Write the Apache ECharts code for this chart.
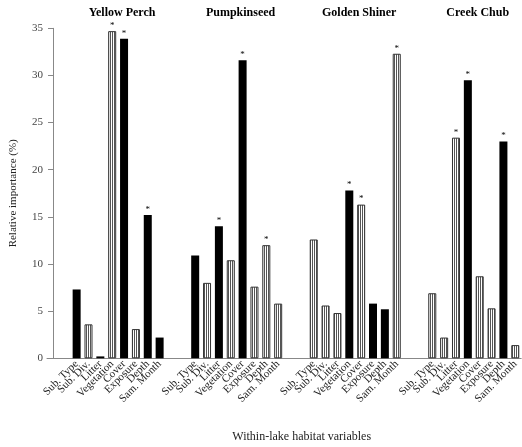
<!DOCTYPE html>
<html><head><meta charset="utf-8">
<script src="https://cdn.jsdelivr.net/npm/echarts@6/dist/echarts.min.js"></script>
<style>html,body{margin:0;padding:0;background:#fff}#c{width:522px;height:447px}</style>
</head><body><div id="c"></div>
<script>
const groups = ['Yellow Perch', 'Pumpkinseed', 'Golden Shiner', 'Creek Chub'];
const variables = ['Sub. Type', 'Sub. Div.', 'Litter', 'Vegetation', 'Cover', 'Exposure', 'Depth', 'Sam. Month'];
const yTicks = [0, 5, 10, 15, 20, 25, 30, 35];

const yellowPerch  = [7.3, 3.6, 0.2, 34.7, 33.9, 3.1, 15.2, 2.2];
const pumpkinseed  = [10.9, 8.0, 14.0, 10.4, 31.6, 7.6, 12.0, 5.8];
const goldenShiner = [12.6, 5.6, 4.8, 17.8, 16.3, 5.8, 5.2, 32.3];
const creekChub    = [6.9, 2.2, 23.4, 29.5, 8.7, 5.3, 23.0, 1.4];

const yellowPerchFill  = ['solid', 'hatched', 'solid', 'hatched', 'solid', 'hatched', 'solid', 'solid'];
const pumpkinseedFill  = ['solid', 'hatched', 'solid', 'hatched', 'solid', 'hatched', 'hatched', 'hatched'];
const goldenShinerFill = ['hatched', 'hatched', 'hatched', 'solid', 'hatched', 'solid', 'solid', 'hatched'];
const creekChubFill    = ['hatched', 'hatched', 'hatched', 'solid', 'hatched', 'hatched', 'solid', 'hatched'];

const yellowPerchSig  = [0, 0, 0, 1, 1, 0, 1, 0];
const pumpkinseedSig  = [0, 0, 1, 0, 1, 0, 1, 0];
const goldenShinerSig = [0, 0, 0, 1, 1, 0, 0, 1];
const creekChubSig    = [0, 0, 1, 1, 0, 0, 1, 0];

const groupValues = [yellowPerch, pumpkinseed, goldenShiner, creekChub];
const groupFills = [yellowPerchFill, pumpkinseedFill, goldenShinerFill, creekChubFill];
const groupSigs = [yellowPerchSig, pumpkinseedSig, goldenShinerSig, creekChubSig];

// hatch pattern
const pc = document.createElement('canvas');
pc.width = 2; pc.height = 2;
const pctx = pc.getContext('2d');
pctx.fillStyle = '#fff'; pctx.fillRect(0, 0, 2, 2);
pctx.fillStyle = '#555'; pctx.fillRect(0, 0, 1, 2);
const hatch = { image: pc, repeat: 'repeat' };

const LEAD = 2, GAP = 2;
const cats = [];
const data = [];
const groupCenters = [];
for (let i = 0; i < LEAD; i++) { cats.push(''); data.push('-'); }
groupValues.forEach((vals, g) => {
  if (g > 0) for (let i = 0; i < GAP; i++) { cats.push(''); data.push('-'); }
  const start = cats.length;
  vals.forEach((v, k) => {
    cats.push(variables[k]);
    const solid = groupFills[g][k] === 'solid';
    data.push({
      value: v,
      sig: groupSigs[g][k],
      itemStyle: solid ? { color: '#000', borderWidth: 0 } : { color: hatch, borderColor: '#333', borderWidth: 1 }
    });
  });
  groupCenters.push((start + cats.length - 1) / 2);
});

const FONT = '"Liberation Serif", "DejaVu Serif", serif';
const chart = echarts.init(document.getElementById('c'), null, { renderer: 'canvas' });
chart.setOption({
  animation: false,
  backgroundColor: '#fff',
  grid: { left: 45.6, right: 0.8, top: 28.3, bottom: 88.7 },
  xAxis: {
    type: 'category', data: cats,
    axisLine: { show: true, lineStyle: { color: '#888', width: 1 } },
    axisTick: { show: false },
    axisLabel: { interval: 0, rotate: 45, fontFamily: FONT, fontSize: 11, color: '#222', margin: 4 }
  },
  yAxis: {
    type: 'value', min: 0, max: 35, interval: 5, offset: -6,
    name: 'Relative importance (%)', nameLocation: 'middle', nameGap: 34,
    nameTextStyle: { fontFamily: FONT, fontSize: 11, color: '#222' },
    axisLine: { show: true, lineStyle: { color: '#888' } },
    axisTick: { show: true, length: 5, lineStyle: { color: '#888' } },
    axisLabel: { fontFamily: FONT, fontSize: 11, color: '#444', margin: 10,
      formatter: v => yTicks.includes(v) ? String(v) : '' },
    splitLine: { show: false }
  },
  series: [{
    type: 'bar', data: data, barWidth: 8,
    label: { show: true, position: 'top', distance: 1, fontSize: 9, color: '#000', fontFamily: FONT,
      formatter: p => (p.data && p.data.sig) ? '*' : '' }
  }]
});

const titleY = 13;
const graphics = groups.map((name, g) => ({
  type: 'text',
  x: chart.convertToPixel({ xAxisIndex: 0 }, groupCenters[g]) - 2,
  y: titleY,
  style: { text: name, fontFamily: FONT, fontSize: 12, fontWeight: 'bold', fill: '#000', align: 'center', verticalAlign: 'middle' }
}));
graphics.push({
  type: 'text', x: 301.7, y: 437,
  style: { text: 'Within-lake habitat variables', fontFamily: FONT, fontSize: 12, fill: '#222', align: 'center', verticalAlign: 'middle' }
});
chart.setOption({ graphic: graphics });
</script>
</body></html>
